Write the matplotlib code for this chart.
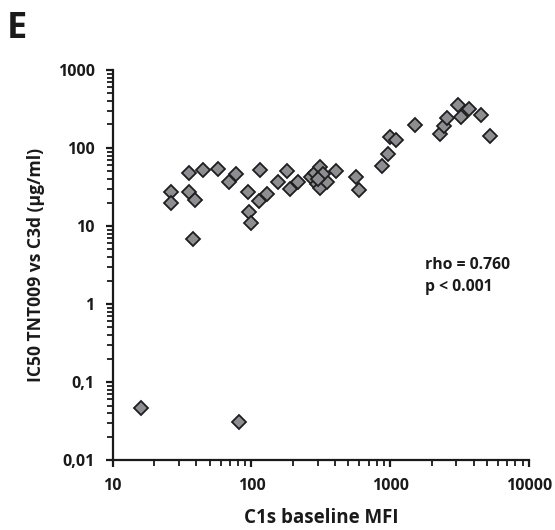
import matplotlib.pyplot as plt
from matplotlib.ticker import LogLocator, NullFormatter

# C1s baseline MFI vs IC50 values
mfi = [15.9, 82, 26.5, 26.5, 35.5, 35.5, 39.5, 38, 45, 57, 69, 78, 95, 95.5, 99,
       116, 114, 129, 156, 180, 189, 215, 271, 287, 312, 295, 312, 348, 330, 300,
       406, 564, 598, 875, 957, 995, 1099, 1507, 2280, 2448, 2577, 3090, 3266,
       3707, 4500, 5225]
ic50 = [0.046, 0.031, 27, 20, 48, 27.5, 21.5, 6.8, 52, 53, 37, 46.5, 27, 15, 11,
        52, 21, 26, 37, 50, 29.5, 37, 42, 47.4, 56.5, 35, 30.5, 37, 46, 40,
        50, 43, 29, 59, 84, 137, 125, 195, 151, 193, 240, 356, 252,
        313, 265, 143]

xticks = [10, 100, 1000, 10000]
xticklabels = ["10", "100", "1000", "10000"]
yticks = [0.01, 0.1, 1, 10, 100, 1000]
yticklabels = ["0,01", "0,1", "1", "10", "100", "1000"]

plt.rcParams['font.family'] = ['Open Sans', 'DejaVu Sans']
plt.rcParams['font.weight'] = 'bold'

fig = plt.figure(figsize=(5.55, 5.3), dpi=100)
ax = fig.add_axes([0.203, 0.132, 0.750, 0.736])

ax.plot(mfi, ic50, ls='none', marker='D', ms=7.5, mfc='#8e8e92', mec='#1e1e1e', mew=1.3)

ax.set_xscale('log')
ax.set_yscale('log')
ax.set_xlim(10, 10000)
ax.set_ylim(0.01, 1000)

ax.set_xticks(xticks)
ax.set_xticklabels(xticklabels)
ax.set_yticks(yticks)
ax.set_yticklabels(yticklabels)
ax.xaxis.set_minor_locator(LogLocator(base=10, subs=range(2, 10)))
ax.yaxis.set_minor_locator(LogLocator(base=10, subs=range(2, 10)))
ax.xaxis.set_minor_formatter(NullFormatter())
ax.yaxis.set_minor_formatter(NullFormatter())

for s in ['top', 'right']:
    ax.spines[s].set_visible(False)
for s in ['left', 'bottom']:
    ax.spines[s].set_linewidth(1.6)
    ax.spines[s].set_color('#1a1a1a')

ax.tick_params(which='major', direction='out', length=5, width=1.6, labelsize=11.5,
               colors='#1a1a1a', pad=8)
ax.tick_params(which='minor', direction='out', length=4, width=1.3, colors='#1a1a1a')
for lab in ax.get_xticklabels() + ax.get_yticklabels():
    lab.set_fontweight('bold')

ax.set_xlabel("C1s baseline MFI", fontsize=13.5, fontweight='bold', color='#1a1a1a', labelpad=10)
ax.set_ylabel("IC50 TNT009 vs C3d (µg/ml)", fontsize=12.6, fontweight='bold', color='#1a1a1a', labelpad=9)

ax.text(0.75, 0.52, "rho = 0.760\np < 0.001", transform=ax.transAxes, ha='left', va='top',
        fontsize=11.3, fontweight='bold', color='#1a1a1a', linespacing=1.45)

fig.text(0.012, 0.928, "E", fontsize=26, fontweight='bold', ha='left', va='baseline', color='#1a1a1a')

fig.savefig("out.png", dpi=100)
